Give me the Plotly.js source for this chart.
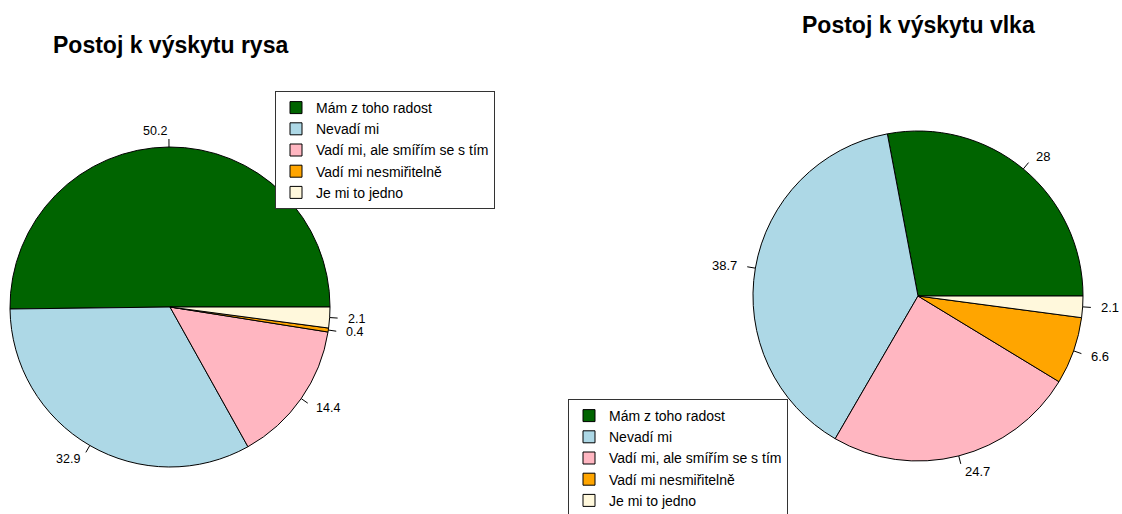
<!DOCTYPE html>
<html>
<head>
<meta charset="utf-8">
<script src="https://cdn.plot.ly/plotly-3.0.1.min.js"></script>
<style>
html,body{margin:0;padding:0;background:#fff;}
#chart{width:1122px;height:514px;}
</style>
</head>
<body>
<div id="chart"></div>
<script>
// ---- data ----
var categories = ["Mám z toho radost", "Nevadí mi", "Vadí mi, ale smířím se s tím", "Vadí mi nesmiřitelně", "Je mi to jedno"];
var rysValues = [50.2, 32.9, 14.4, 0.4, 2.1];
var vlkValues = [28, 38.7, 24.7, 6.6, 2.1];
var rysLabels = ["50.2", "32.9", "14.4", "0.4", "2.1"];
var vlkLabels = ["28", "38.7", "24.7", "6.6", "2.1"];
var titles = ["Postoj k výskytu rysa", "Postoj k výskytu vlka"];
var colors = ["#006400", "#ADD8E6", "#FFB6C1", "#FFA500", "#FFF8DC"];

// ---- layout constants ----
var W = 1122, H = 514;
var pies = [
  {cx: 170, cy: 307, r: 160, values: rysValues, labels: rysLabels, legend: "legend", group: "rys", fs: 12.5, title: titles[0], ty: 45},
  {cx: 918, cy: 296, r: 165, values: vlkValues, labels: vlkLabels, legend: "legend2", group: "vlk", fs: 13, title: titles[1], ty: 25}
];
function px2x(p){ return p / W; }
function py2y(p){ return 1 - p / H; }

var data = [], shapes = [], annotations = [];
pies.forEach(function(p){
  var total = p.values.reduce(function(a,b){return a+b;}, 0);
  // Plotly's counterclockwise pies place the first slice clockwise of `rotation`;
  // shift so the first slice starts at 3 o'clock and runs counterclockwise (as in R).
  var rot = 90 - p.values[0] / total * 360;
  data.push({
    type: "pie",
    labels: categories,
    values: p.values,
    sort: false,
    direction: "counterclockwise",
    rotation: rot,
    textinfo: "none",
    hoverinfo: "none",
    legend: p.legend,
    legendgroup: p.group,
    marker: {colors: colors, line: {color: "#000", width: 1}},
    domain: {x: [px2x(p.cx - p.r), px2x(p.cx + p.r)], y: [py2y(p.cy + p.r), py2y(p.cy - p.r)]}
  });
  var cum = 0;
  p.values.forEach(function(v, i){
    var mid = (cum + v / 2) / total * 2 * Math.PI; // counterclockwise from 3 o'clock
    cum += v;
    var c = Math.cos(mid), s = Math.sin(mid);
    shapes.push({type: "line", xref: "paper", yref: "paper",
      x0: px2x(p.cx + p.r * c), y0: py2y(p.cy - p.r * s),
      x1: px2x(p.cx + 1.05 * p.r * c), y1: py2y(p.cy - 1.05 * p.r * s),
      line: {color: "#000", width: 1}});
    annotations.push({xref: "paper", yref: "paper", showarrow: false,
      x: px2x(p.cx + 1.1 * p.r * c), y: py2y(p.cy - 1.1 * p.r * s),
      xanchor: c < 0 ? "right" : "left", yanchor: "middle",
      text: p.labels[i], font: {size: p.fs, color: "#000"}});
  });
  annotations.push({xref: "paper", yref: "paper", showarrow: false,
    x: px2x(p.cx), y: py2y(p.ty), xanchor: "center", yanchor: "middle",
    text: "<b>" + p.title + "</b>", font: {size: 23, color: "#000"}});
});

var legendStyle = {
  bgcolor: "#fff", bordercolor: "#333", borderwidth: 1,
  font: {size: 14, color: "#000", family: "Liberation Sans, Arial, sans-serif"},
  xanchor: "left", yanchor: "top", traceorder: "normal"
};
var layout = {
  width: W, height: H,
  margin: {l: 0, r: 0, t: 0, b: 0, autoexpand: false},
  paper_bgcolor: "#fff",
  font: {family: "Liberation Sans, Arial, sans-serif", color: "#000"},
  showlegend: true,
  legend: Object.assign({x: px2x(275), y: py2y(91)}, legendStyle),
  legend2: Object.assign({x: px2x(568), y: py2y(399)}, legendStyle),
  shapes: shapes,
  annotations: annotations
};
Plotly.newPlot("chart", data, layout, {displayModeBar: false, staticPlot: true});
</script>
</body>
</html>
